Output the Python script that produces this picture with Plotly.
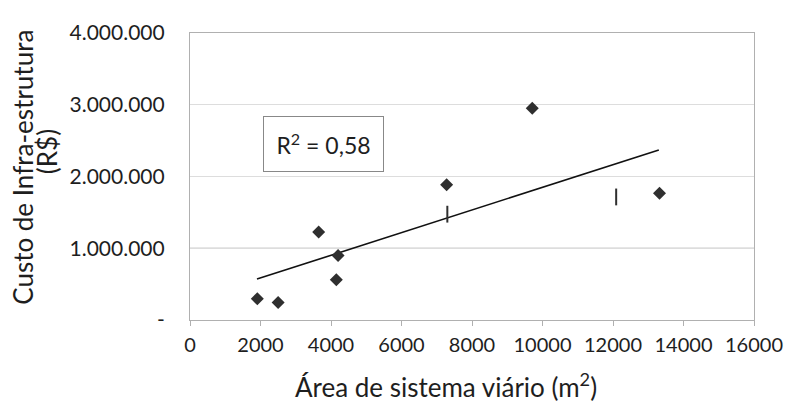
import plotly.graph_objects as go

# Data
area_x = [1910, 2500, 3650, 4200, 4150, 7280, 9710, 13320]
custo_y = [296000, 243000, 1225000, 900000, 562000, 1885000, 2950000, 1765000]

dash_x = [7300, 12090]
dash_y = [1475000, 1715000]

trend_x = [1900, 13300]
trend_y = [570000, 2370000]

x_ticks = [0, 2000, 4000, 6000, 8000, 10000, 12000, 14000, 16000]
x_ticktext = ["0", "2000", "4000", "6000", "8000", "10000", "12000", "14000", "16000"]
y_ticks = [0, 1000000, 2000000, 3000000, 4000000]
y_ticktext = ["-", "1.000.000", "2.000.000", "3.000.000", "4.000.000"]
highlight_y = 1000000

r2_text = "R<sup>2</sup> = 0,58"

FONT = "Lato"
TXT = "#1e1e1e"

fig = go.Figure()

fig.add_trace(go.Scatter(
    x=trend_x, y=trend_y, mode="lines",
    line=dict(color="#111111", width=1.6),
    showlegend=False, hoverinfo="skip"))

fig.add_trace(go.Scatter(
    x=area_x, y=custo_y, mode="markers",
    marker=dict(symbol="diamond", size=10, color="#2f2f2f"),
    showlegend=False))

fig.add_trace(go.Scatter(
    x=dash_x, y=dash_y, mode="markers",
    marker=dict(symbol="line-ns", size=12, line=dict(color="#2f2f2f", width=2)),
    showlegend=False))

fig.add_shape(type="line", xref="paper", x0=0, x1=1, yref="y",
              y0=highlight_y, y1=highlight_y,
              line=dict(color="#9a9a9a", width=1.2), layer="below")

# page body has an 8px margin, so the figure is offset by 8px
fig.update_layout(
    width=786, height=401,
    margin=dict(l=182, r=32, t=11, b=89),
    paper_bgcolor="white", plot_bgcolor="white",
    font=dict(family=FONT, color=TXT, size=20),
    xaxis=dict(range=[0, 16000], tickvals=x_ticks, ticktext=x_ticktext,
               showgrid=False,
               zeroline=False, showline=True, mirror=True,
               linecolor="#b0b0b0", linewidth=1.2,
               ticks="outside", ticklen=5, tickcolor="#b0b0b0",
               ticklabelstandoff=2, ticklabeloverflow="allow",
               tickfont=dict(family=FONT, size=20, color=TXT)),
    yaxis=dict(range=[0, 4000000], tickvals=y_ticks, ticktext=y_ticktext,
               showgrid=True, gridcolor="#dddddd", gridwidth=1,
               zeroline=False, showline=True, mirror=True,
               linecolor="#b0b0b0", linewidth=1.2, ticks="",
               ticklabelstandoff=20, ticklabeloverflow="allow",
               tickfont=dict(family=FONT, size=21, color=TXT)),
    annotations=[
        dict(text=r2_text, x=3794, y=2458000, xref="x", yref="y",
             showarrow=False, xanchor="center", yanchor="middle",
             width=117, height=52, bordercolor="#888888", borderwidth=1,
             bgcolor="white", font=dict(family=FONT, size=23, color=TXT)),
        dict(text="Custo de Infra-estrutura", x=-0.2955, y=0.5316,
             xref="paper", yref="paper", showarrow=False, textangle=-90,
             xanchor="center", yanchor="middle",
             font=dict(family=FONT, size=26, color=TXT)),
        dict(text="(R$)", x=-0.2535, y=0.585,
             xref="paper", yref="paper", showarrow=False, textangle=-90,
             xanchor="center", yanchor="middle",
             font=dict(family=FONT, size=26, color=TXT)),
        dict(text="Área de sistema viário (m<sup>2</sup>)", x=0.4545, y=-0.228,
             xref="paper", yref="paper", showarrow=False,
             xanchor="center", yanchor="middle",
             font=dict(family=FONT, size=26, color=TXT)),
    ],
)

fig.write_html("out.html")
